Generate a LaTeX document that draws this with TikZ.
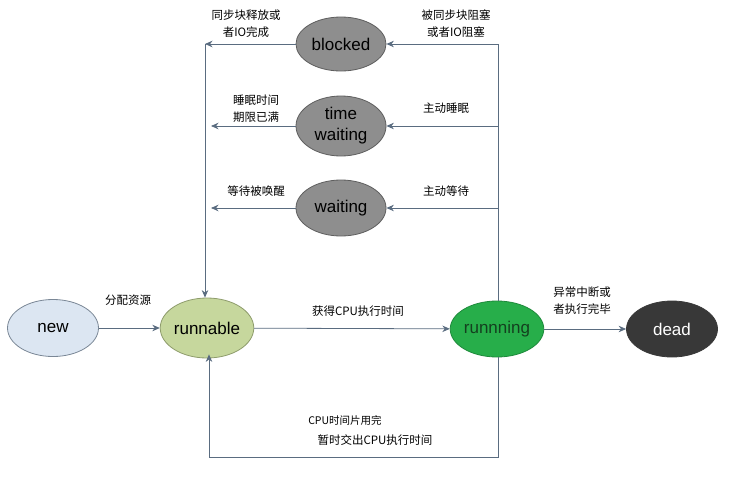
\documentclass[tikz,border=0pt]{standalone}
\usepackage{fontspec}
\setmainfont{Liberation Sans}
\newfontfamily\cjk{Noto Sans CJK SC}
\usetikzlibrary{shapes.geometric,arrows.meta}
\definecolor{linec}{HTML}{5A6C80}
\definecolor{newfill}{HTML}{DCE6F2}
\definecolor{newdraw}{HTML}{7A8796}
\definecolor{runfill}{HTML}{C6D79D}
\definecolor{rundraw}{HTML}{8E9C6C}
\definecolor{gofill}{HTML}{27AE4A}
\definecolor{godraw}{HTML}{1E8A3B}
\definecolor{gotext}{HTML}{14401F}
\definecolor{grayfill}{HTML}{8E8E8E}
\definecolor{graydraw}{HTML}{5E5E5E}
\definecolor{deadfill}{HTML}{383838}
\begin{document}
\begin{tikzpicture}[x=1pt,y=-1pt,
  state/.style={ellipse,draw,line width=0.8pt,inner sep=0pt,minimum width=91pt,
    minimum height=57pt,font=\fontsize{17}{21}\selectfont,align=center},
  lbl/.style={font=\cjk\fontsize{11.5}{17}\selectfont,align=center,inner sep=0pt},
  conn/.style={draw=linec,line width=0.8pt},
  arr/.style={conn,-{Stealth[length=7.5pt,width=6.5pt]}}]
\useasboundingbox (0,0) rectangle (732,488);
\fill[white] (0,0) rectangle (732,488);

% states
\node[state,fill=newfill,draw=newdraw] (new) at (53,328) {new};
\node[state,fill=runfill,draw=rundraw,minimum height=60pt] (runnable) at (207,328) {runnable};
\node[state,fill=gofill,draw=godraw,text=gotext,minimum height=56pt] (running) at (497,329) {runnning};
\node[state,fill=deadfill,draw=deadfill,text=white,minimum height=56pt] (dead) at (672,329) {dead};
\node[state,fill=grayfill,draw=graydraw,minimum width=90pt,minimum height=54pt] (blocked) at (341,44) {blocked};
\node[state,fill=grayfill,draw=graydraw,minimum width=90pt,minimum height=60pt] (timed) at (341,126) {time\\waiting};
\node[state,fill=grayfill,draw=graydraw,minimum width=90pt,minimum height=56pt] (waiting) at (341,208) {waiting};

% junction points
\coordinate (tr) at (498,44);
\coordinate (tl) at (205,44);
\coordinate (br) at (498,457);
\coordinate (bl) at (209,457);

% main line
\draw[arr] (new) -- (runnable);
\draw[arr] (runnable) -- (running);
\draw[arr] (running) -- (dead);

% running up into the waiting states
\draw[conn] (running.north -| tr) -- (tr);
\draw[arr] (tr) -- (blocked);
\draw[arr] (tr |- timed) -- (timed);
\draw[arr] (tr |- waiting) -- (waiting);

% waiting states back to runnable
\draw[arr] (blocked) -- (tl);
\draw[arr] (tl) -- (tl |- runnable.north);
\draw[arr] (timed) -- (211,126);
\draw[arr] (waiting) -- (211,208);

% time slice used up
\draw[conn] (running.south -| br) -- (br) -- (bl);
\draw[arr] (bl) -- ([yshift=4pt]runnable.south -| bl);

% labels
\node[lbl] (l1) at (246,24) {同步块释放或\\者IO完成};
\node[lbl] (l2) at (456,24) {被同步块阻塞\\或者IO阻塞};
\node[lbl] (l3) at (256,109) {睡眠时间\\期限已满};
\node[lbl] (l4) at (446,108) {主动睡眠};
\node[lbl] (l5) at (256,191) {等待被唤醒};
\node[lbl] (l6) at (446,191) {主动等待};
\node[lbl] (l7) at (128,300) {分配资源};
\node[lbl] (l8) at (358,311) {获得CPU执行时间};
\node[lbl] (l9) at (582,301) {异常中断或\\者执行完毕};
\node[lbl,font=\cjk\fontsize{10.5}{12}\selectfont] (l10) at (345,420) {CPU时间片用完};
\node[lbl] (l11) at (375,440) {暂时交出CPU执行时间};
\end{tikzpicture}
\end{document}
